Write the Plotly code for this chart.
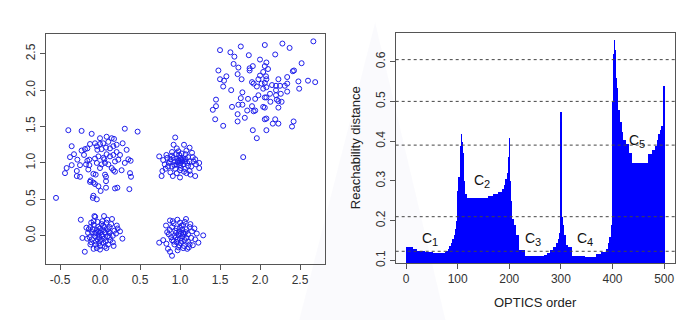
import plotly.graph_objects as go

# ---------------- data: scatter (left panel) ----------------
tr_x = [2.667, 2.06, 2.28, 1.76, 1.5, 1.63, 1.68, 1.86, 2.19, 2.37, 2.52, 2.425, 2.41, 2.34, 2.23, 2.08, 2.0, 1.91, 1.87, 1.87,
        1.67, 1.73, 1.72, 1.58, 1.48, 1.5, 1.55, 1.54, 1.64, 1.77, 1.9, 1.92, 1.96, 1.98, 2.0, 2.04, 2.06, 2.1, 2.075, 2.08,
        2.06, 2.02, 2.04, 2.08, 2.15, 2.2, 2.25, 2.31, 2.34, 2.48, 2.6, 2.69, 2.49, 2.34, 2.26, 2.2, 2.21, 2.23, 2.27, 2.13,
        2.08, 2.06, 1.98, 1.94, 1.85, 1.78, 1.76, 1.78, 1.84, 1.9, 1.94, 2.04, 2.06, 2.23, 1.65, 1.73, 1.45, 1.45, 1.41, 1.54,
        1.44, 1.72, 1.72, 1.81, 1.92, 2.06, 2.08, 2.19, 2.16, 2.23, 2.4, 2.42, 1.91, 2.08, 1.96, 1.79, 2.2, 2.125]
tr_y = [2.67, 2.62, 2.64, 2.60, 2.55, 2.52, 2.46, 2.48, 2.49, 2.58, 2.37, 2.27, 2.26, 2.18, 2.15, 2.38, 2.42, 2.33, 2.30, 2.27,
        2.36, 2.31, 2.22, 2.19, 2.27, 2.15, 2.13, 2.05, 2.0, 2.15, 2.11, 2.09, 2.05, 2.15, 2.20, 2.25, 2.33, 2.29, 2.19, 2.15,
        2.10, 2.09, 2.02, 2.04, 2.07, 2.06, 2.06, 2.06, 2.09, 2.12, 2.13, 2.11, 2.02, 1.98, 1.95, 1.93, 1.87, 1.85, 1.84, 1.84,
        1.90, 1.90, 1.93, 1.88, 1.88, 1.97, 1.89, 1.80, 1.72, 1.78, 1.72, 1.77, 1.76, 1.76, 1.77, 1.80, 1.87, 1.78, 1.73, 1.51,
        1.60, 1.67, 1.57, 1.62, 1.71, 1.60, 1.61, 1.60, 1.54, 1.54, 1.50, 1.57, 1.45, 1.45, 1.34, 1.08, 2.0, 1.95]

tl_x = [-0.55, -0.396, -0.23, 0.31, 0.47, -0.104, 0.083, 0.146, 0.175, -0.354, -0.23, -0.2, -0.375, -0.325, -0.125, -0.0625,
        0.0, -0.033, 0.02, 0.075, 0.125, 0.167, 0.283, 0.333, 0.208, 0.25, 0.354, 0.383, 0.31, 0.167, 0.125, 0.083, 0.042,
        -0.02, -0.0625, -0.133, -0.175, -0.25, -0.133, -0.354, -0.417, -0.4375, -0.29, -0.25, -0.29, -0.146, -0.083, -0.054,
        -0.117, -0.125, -0.083, -0.0625, -0.02, 0.008, 0.075, -0.083, -0.04, -0.09, 0.0625, 0.075, 0.075, 0.02, 0.0625, 0.104,
        0.146, 0.167, 0.1875, 0.27, 0.375, 0.3875, 0.367, 0.217, 0.1875, -0.1875, -0.158, -0.283, 0.0, 0.04, 0.104, 0.208,
        -0.04, 0.0, -0.04, 0.054, 0.229, 0.1875, -0.158]
tl_y = [0.52, 1.45, 1.44, 1.47, 1.43, 1.40, 1.36, 1.34, 1.33, 1.23, 1.17, 1.11, 1.08, 1.12, 1.26, 1.27,
        1.26, 1.18, 1.19, 1.21, 1.20, 1.23, 1.27, 1.18, 1.15, 1.11, 1.05, 1.03, 1.00, 1.11, 1.09, 1.12, 1.07,
        1.09, 1.06, 1.045, 0.98, 0.97, 0.97, 0.97, 0.93, 0.86, 0.89, 0.81, 0.82, 0.91, 0.85, 0.84,
        0.76, 0.74, 0.73, 0.71, 0.68, 0.615, 0.66, 0.55, 0.50, 0.52, 0.84, 0.81, 0.75, 0.98, 1.00, 0.98,
        0.93, 0.90, 0.88, 0.90, 0.86, 0.81, 0.64, 0.66, 0.65, 1.19, 1.20, 1.045, 1.34, 1.27, 1.29, 1.25,
        1.0, 0.93, 1.23, 1.05, 1.045, 1.02, 1.03]

mid_x = [0.94, 0.74, 0.83, 0.96, 1.12, 1.15, 1.19, 1.24, 1.24, 1.19, 1.08, 1.0, 0.91, 0.78, 0.77, 0.81, 0.875,
         0.9, 0.95, 1.02, 1.07, 1.1, 1.12, 1.1, 1.06, 1.0, 0.94, 0.9, 0.88, 0.92,
         0.96, 1.0, 1.04, 1.06, 1.04, 1.0, 0.96, 0.94, 0.98, 1.02, 1.0, 0.97, 1.03, 1.01,
         0.85, 0.84, 1.14, 1.16, 1.08, 0.98, 0.9, 1.05, 0.96, 1.12, 0.88, 1.2, 0.79, 1.09, 0.93, 1.07, 0.99, 1.01,
         0.86, 1.17, 0.92, 1.05, 1.13, 0.82]
mid_y = [1.35, 1.09, 1.11, 1.2, 1.21, 1.14, 1.05, 1.0, 0.93, 0.82, 0.86, 0.8, 0.82, 0.89, 0.82, 0.98, 1.02,
         1.1, 1.12, 1.13, 1.12, 1.08, 1.02, 0.96, 0.92, 0.9, 0.92, 0.95, 1.05, 1.07,
         1.06, 1.07, 1.06, 1.02, 0.98, 0.97, 0.98, 1.02, 1.03, 1.02, 1.0, 1.01, 1.04, 1.05,
         0.95, 1.07, 0.95, 1.08, 1.17, 1.16, 1.15, 0.88, 0.86, 0.89, 0.87, 0.98, 1.04, 1.0, 0.97, 1.05, 1.11, 0.93,
         1.0, 1.02, 1.25, 1.25, 0.84, 0.92]

bl_x = [-0.24, -0.19, -0.16, -0.22, -0.07, 0.05, 0.15, 0.21, 0.28, -0.08, 0.06, -0.06,
        -0.12, -0.1, -0.13, -0.11, -0.05, 0.0, 0.04, 0.1, 0.13, 0.16, 0.18, 0.12, 0.08, 0.02, -0.03, -0.08,
        -0.04, 0.0, 0.04, 0.07, 0.09, 0.05, 0.01, -0.03, -0.06, -0.07, -0.02, 0.02, 0.0, 0.03, -0.01,
        -0.09, 0.11, 0.1, -0.02, 0.05, -0.05, 0.07, 0.12, -0.1, -0.15, -0.14, 0.16, 0.2, 0.14, -0.01, 0.03,
        -0.11, 0.08, -0.04, 0.22, 0.09, -0.17, 0.0, 0.25, -0.05, 0.06, -0.08, 0.12, 0.04, -0.12, 0.17, -0.02]
bl_y = [0.22, -0.22, -0.04, -0.03, 0.27, 0.27, 0.23, 0.14, -0.04, -0.18, -0.15, 0.26,
        0.12, 0.05, -0.02, -0.09, -0.12, -0.14, -0.1, -0.12, -0.06, 0.0, 0.07, 0.12, 0.18, 0.16, 0.19, 0.15,
        0.08, 0.1, 0.07, 0.04, -0.01, -0.04, -0.06, -0.05, -0.01, 0.03, 0.02, 0.01, 0.04, -0.01, -0.02,
        0.09, 0.06, 0.09, 0.12, 0.12, -0.08, -0.08, -0.02, -0.05, 0.04, 0.09, -0.09, 0.03, 0.16, -0.1, 0.2,
        0.18, -0.17, -0.17, 0.1, 0.22, 0.11, -0.19, 0.06, 0.04, 0.05, 0.2, 0.04, 0.14, -0.12, -0.14, 0.06]

bm_x = [0.74, 0.79, 0.83, 0.85, 0.875, 0.9, 1.29, 1.23, 1.21, 1.075, 0.967, 0.875, 0.825, 1.09, 1.16,
        0.92, 1.0, 1.04, 1.12, 1.15, 1.18, 1.14, 1.1, 1.05, 0.98, 0.93, 0.9, 0.86, 0.87, 0.9, 0.96,
        0.95, 0.98, 1.01, 1.03, 1.0, 0.97, 0.95, 1.02, 1.05, 1.07, 1.08, 0.99, 1.03, 0.93, 1.06, 1.01,
        0.96, 1.1, 1.12, 0.94, 1.0, 1.08, 0.89, 1.04, 0.99, 1.13, 0.91, 0.84, 1.19, 1.06, 0.97, 1.02,
        1.11, 0.92, 1.04]
bm_y = [-0.095, -0.06, -0.11, -0.18, -0.22, -0.275, 0.005, -0.095, 0.03, 0.23, 0.22, 0.21, 0.14, -0.18, -0.13,
        0.17, 0.18, 0.15, 0.12, 0.06, 0.1, -0.03, -0.08, -0.14, -0.16, -0.12, -0.06, 0.02, 0.08, 0.12, 0.1,
        0.04, 0.01, 0.03, -0.01, -0.04, -0.05, -0.02, -0.07, 0.02, 0.05, -0.03, 0.06, 0.08, 0.0, -0.06, -0.1,
        -0.09, 0.02, -0.12, 0.07, 0.11, 0.09, -0.02, -0.17, -0.13, 0.16, 0.2, 0.05, -0.05, 0.19, -0.2, 0.14,
        -0.16, -0.08, 0.04]

# ---------------- data: reachability plot (right panel), run-length encoded ----------------
reach_counts = [12, 8, 15, 15, 25,
                3, 3, 3, 3, 3, 3, 3, 2, 1, 1,
                2, 2, 1, 1, 1, 1, 2, 1, 1, 4,
                44, 8, 10, 8, 4, 3, 2, 2, 1, 1, 1,
                1, 2, 5, 4, 6, 10,
                40, 6, 6, 5, 5, 4, 3, 1, 1, 1,
                1, 2, 2, 3, 5, 7,
                25, 23, 10, 10, 3, 3, 3, 2,
                1, 1, 1, 1, 1, 1, 1, 1,
                3, 3, 3, 3, 5, 7, 5, 33, 8, 6, 3, 3, 3, 3, 4, 1]
reach_values = [0.135, 0.13, 0.126, 0.122, 0.119,
                0.121, 0.125, 0.13, 0.137, 0.145, 0.155, 0.165, 0.18, 0.2, 0.24,
                0.275, 0.31, 0.35, 0.39, 0.418, 0.4, 0.37, 0.33, 0.3, 0.268,
                0.257, 0.262, 0.267, 0.272, 0.28, 0.29, 0.305, 0.32, 0.33, 0.36, 0.41,
                0.3, 0.25, 0.205, 0.19, 0.165, 0.128,
                0.112, 0.115, 0.12, 0.127, 0.135, 0.145, 0.155, 0.17, 0.42, 0.475,
                0.3, 0.21, 0.19, 0.165, 0.14, 0.136,
                0.113, 0.11, 0.118, 0.122, 0.13, 0.145, 0.16, 0.19,
                0.3, 0.5, 0.58, 0.62, 0.655, 0.63, 0.6, 0.56,
                0.535, 0.48, 0.45, 0.425, 0.405, 0.395, 0.37, 0.345, 0.368, 0.38, 0.39, 0.405, 0.42, 0.43, 0.44, 0.54]

thresholds = [0.605, 0.5, 0.39, 0.21, 0.123]

cluster_letter = ["C", "C", "C", "C", "C"]
cluster_index = ["1", "2", "3", "4", "5"]
label_order = [41, 141, 241, 341, 441]
label_reach = [0.156, 0.303, 0.156, 0.156, 0.403]

x1_ticks = [-0.5, 0.0, 0.5, 1.0, 1.5, 2.0, 2.5]
x1_text = ["-0.5", "0.0", "0.5", "1.0", "1.5", "2.0", "2.5"]
y1_ticks = [0.0, 0.5, 1.0, 1.5, 2.0, 2.5]
y1_text = ["0.0", "0.5", "1.0", "1.5", "2.0", "2.5"]
x2_ticks = [0, 100, 200, 300, 400, 500]
y2_ticks = [0.1, 0.2, 0.3, 0.4, 0.5, 0.6]
y2_text = ["0.1", "0.2", "0.3", "0.4", "0.5", "0.6"]

# ---------------- build ----------------
reach = []
for c, v in zip(reach_counts, reach_values):
    reach.extend([v] * c)
order = [i + 0.5 for i in range(len(reach))]

pts_x = tr_x + tl_x + mid_x + bl_x + bm_x
pts_y = tr_y + tl_y + mid_y + bl_y + bm_y

W, H = 696, 324
FONT = "Liberation Sans, Arial, sans-serif"
BLUE = "rgb(30,30,235)"

fig = go.Figure()
fig.add_trace(go.Scatter(x=pts_x, y=pts_y, mode="markers", xaxis="x", yaxis="y",
                         marker=dict(symbol="circle-open", size=5, color=BLUE, line=dict(width=1, color=BLUE)),
                         showlegend=False, hoverinfo="skip"))
fig.add_trace(go.Bar(x=order, y=reach, width=1.0, xaxis="x2", yaxis="y2",
                     marker=dict(color="rgb(0,0,255)", line=dict(width=0)),
                     showlegend=False, hoverinfo="skip"))

axis_common = dict(showline=True, mirror=True, linecolor="#555", linewidth=1, ticks="outside",
                   ticklen=5, tickcolor="#555", tickwidth=1, showgrid=False, zeroline=False,
                   tickfont=dict(family=FONT, size=12, color="#333"), fixedrange=True)

fig.update_layout(
    width=W, height=H, margin=dict(l=0, r=0, t=0, b=0),
    paper_bgcolor="white", plot_bgcolor="white", bargap=0,
    xaxis=dict(domain=[46 / W, 325 / W], range=[-0.675, 2.8125], tickvals=x1_ticks, ticktext=x1_text,
               anchor="y", **axis_common),
    yaxis=dict(domain=[1 - 267 / H, 1 - 34 / H], range=[-0.384, 2.777], tickvals=y1_ticks, ticktext=y1_text,
               tickangle=-90, anchor="x", **axis_common),
    xaxis2=dict(domain=[395.7 / W, 675 / W], range=[-20, 521], tickvals=x2_ticks,
                anchor="y2", **axis_common),
    yaxis2=dict(domain=[1 - 266.3 / H, 1 - 33 / H], range=[0.0935, 0.673], tickvals=y2_ticks, ticktext=y2_text,
                tickangle=-90, anchor="x2", **axis_common),
)

shapes = [dict(type="path", xref="paper", yref="paper",
               path="M 0.539 0.93 L 0.43 0 L 0.64 0 Z",
               fillcolor="rgba(225,225,242,0.18)", line=dict(width=0), layer="below")]
for t in thresholds:
    shapes.append(dict(type="line", xref="x2 domain", yref="y2", x0=0, x1=1, y0=t, y1=t,
                       line=dict(color="#444", width=1, dash="dot"), layer="above"))
fig.update_layout(shapes=shapes)

for letter, idx, xo, yv in zip(cluster_letter, cluster_index, label_order, label_reach):
    fig.add_annotation(x=xo, y=yv, xref="x2", yref="y2", text=letter, showarrow=False,
                       xanchor="center", yanchor="middle",
                       font=dict(family=FONT, size=14, color="#111"))
    fig.add_annotation(x=xo, y=yv, xref="x2", yref="y2", text=idx, showarrow=False,
                       xanchor="center", yanchor="middle", xshift=8, yshift=-4,
                       font=dict(family=FONT, size=11, color="#111"))

fig.add_annotation(x=535 / W, y=1 - 306.5 / H, xref="paper", yref="paper", text="OPTICS order",
                   xanchor="center", yanchor="middle",
                   showarrow=False, font=dict(family=FONT, size=13, color="#222"))
fig.add_annotation(x=355 / W, y=1 - 150 / H, xref="paper", yref="paper", text="Reachability distance",
                   xanchor="center", yanchor="middle",
                   textangle=-90, showarrow=False, font=dict(family=FONT, size=13, color="#222"))

fig.write_html("out.html")
